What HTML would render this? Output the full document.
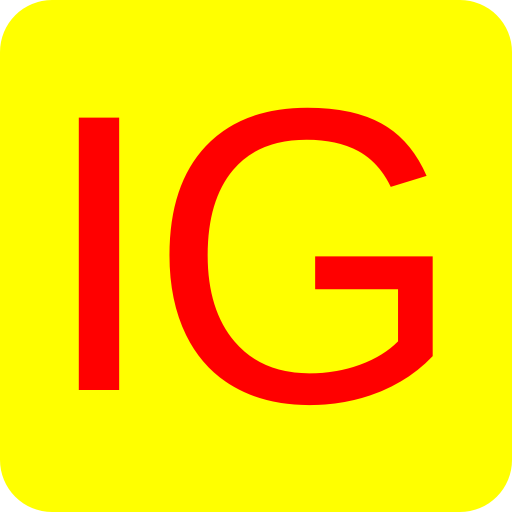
<!DOCTYPE html>
<html>
<head>
<meta charset="utf-8">
<style>
  html, body { margin: 0; padding: 0; background: #ffffff; }
  svg { display: block; }
</style>
</head>
<body>
<svg width="512" height="512" viewBox="0 0 512 512">
  <rect x="0" y="0" width="512" height="512" rx="52" ry="52" fill="#ffff00"/>
  <text x="99" y="388" text-anchor="middle" font-family="'Liberation Sans', sans-serif" font-size="390" fill="#ff0000" stroke="#ff0000" stroke-width="4">I</text>
  <text x="0" y="0" text-anchor="middle" font-family="'Liberation Sans', sans-serif" font-size="420" fill="#ff0000" transform="translate(306,401) scale(0.96,1)">G</text>
</svg>
</body>
</html>
